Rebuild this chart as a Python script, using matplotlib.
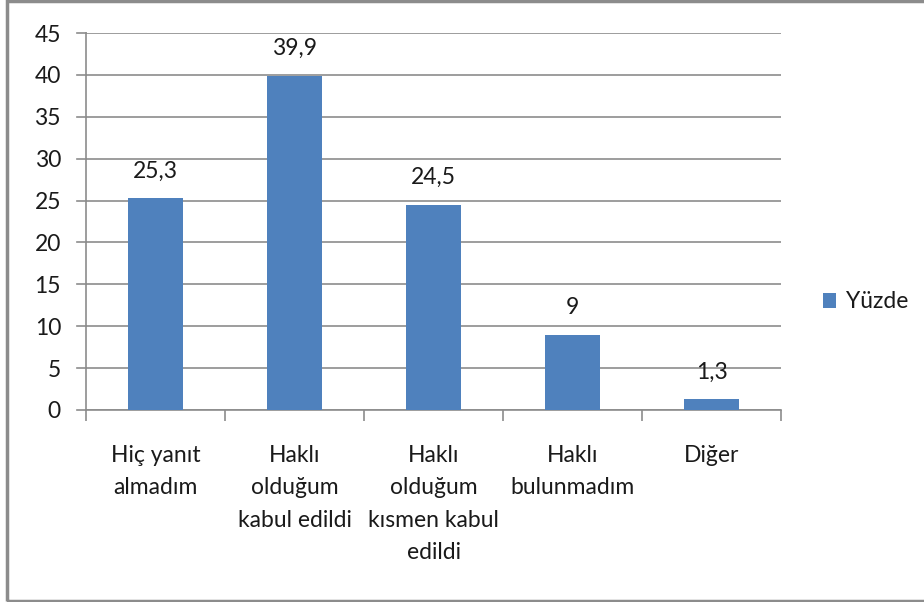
import matplotlib
matplotlib.use("Agg")
import matplotlib.pyplot as plt
from matplotlib.patches import Rectangle

categories = ["Hiç yanıt\nalmadım", "Haklı\nolduğum\nkabul edildi",
              "Haklı\nolduğum\nkısmen kabul\nedildi", "Haklı\nbulunmadım", "Diğer"]
values = [25.3, 39.9, 24.5, 9, 1.3]
value_labels = ["25,3", "39,9", "24,5", "9", "1,3"]
series_name = "Yüzde"
yticks = [0, 5, 10, 15, 20, 25, 30, 35, 40, 45]

bar_color = "#4F81BD"
grid_color = "#8C8C8C"
text_color = "#1A1A1A"
fs = 16.5

plt.rcParams["font.family"] = ["Lato", "DejaVu Sans"]

fig = plt.figure(figsize=(9.24, 6.02), dpi=100)
ax = fig.add_axes([86 / 924, 1 - 410 / 602, 695 / 924, 377 / 602])

x = list(range(len(categories)))
bars = ax.bar(x, values, width=0.4, color=bar_color, label=series_name, zorder=3)

ax.set_xlim(-0.5, len(categories) - 0.5)
ax.set_ylim(0, 45)
ax.set_yticks(yticks)
ax.set_yticklabels([str(t) for t in yticks], fontsize=fs, color=text_color)
ax.yaxis.grid(True, color=grid_color, linewidth=1.2, zorder=0)
for t in yticks:
    ax.plot([-0.565, -0.5], [t, t], color=grid_color, lw=1.2, clip_on=False, zorder=1)
ax.tick_params(axis="y", length=0, pad=18)

# category boundaries as tick marks below the axis
ax.set_xticks([i - 0.5 for i in range(len(categories) + 1)], minor=False)
ax.set_xticklabels([""] * (len(categories) + 1))
ax.tick_params(axis="x", which="major", length=8, width=1.2, color=grid_color, direction="out")
ax.set_xticks(x, minor=True)
ax.set_xticklabels(categories, minor=True, fontsize=fs, color=text_color, linespacing=1.67,
                   va="top")
ax.tick_params(axis="x", which="minor", length=0, pad=25)

for side in ["top", "right"]:
    ax.spines[side].set_visible(False)
for side in ["left", "bottom"]:
    ax.spines[side].set_color(grid_color)
    ax.spines[side].set_linewidth(1.2)

for b, lab in zip(bars, value_labels):
    ax.annotate(lab, (b.get_x() + b.get_width() / 2, b.get_height()),
                xytext=(0, 12), textcoords="offset points", ha="center", va="bottom",
                fontsize=fs, color=text_color)

leg = fig.legend(handles=[bars], labels=[series_name], loc="center left",
                 bbox_to_anchor=(802 / 924, 1 - 302 / 602), frameon=False,
                 fontsize=fs, handlelength=0.6, handleheight=0.6, handletextpad=0.4)
for t in leg.get_texts():
    t.set_color(text_color)

fig.patches.append(Rectangle((7 / 924, 1 / 602), 1.0, 600 / 602, transform=fig.transFigure,
                             fill=False, edgecolor="#8C8C8C", linewidth=2.5))

fig.savefig("out.png", dpi=100)
